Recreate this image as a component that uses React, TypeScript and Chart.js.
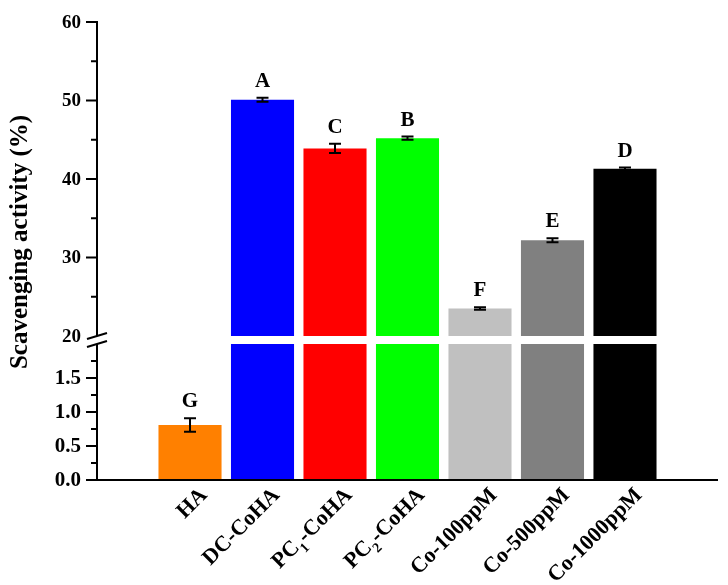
import { useEffect, useRef } from "react";
import { Chart, registerables } from "chart.js";

Chart.register(...registerables);

// ---------- data ----------
const categories = ["HA", "DC-CoHA", "PC_1-CoHA", "PC_2-CoHA", "Co-100ppM", "Co-500ppM", "Co-1000ppM"];
const values = [0.81, 50.1, 43.9, 45.2, 23.5, 32.2, 41.3];
const errors = [0.1, 0.25, 0.6, 0.2, 0.15, 0.25, 0.15];
const groupLetters = ["G", "A", "C", "B", "F", "E", "D"];
const barColors = ["#FF8000", "#0000FF", "#FF0000", "#00FF00", "#C0C0C0", "#808080", "#000000"];
const upperTicks = [20, 30, 40, 50, 60];
const upperMinorTicks = [25, 35, 45, 55];
const lowerTicks = [0, 0.5, 1.0, 1.5];
const lowerMinorTicks = [0.25, 0.75, 1.25, 1.75];
const lowerTickLabels = ["0.0", "0.5", "1.0", "1.5"];
const BREAK_LOW = 2;
const BREAK_HIGH = 20;
const yTitle = "Scavenging activity (%)";

const FONT = '"Liberation Serif", "Times New Roman", serif';

function drawLabel(ctx: CanvasRenderingContext2D, label: string, size: number) {
  const parts: { t: string; sub: boolean }[] = [];
  let buf = "";
  for (let i = 0; i < label.length; i++) {
    if (label[i] === "_" && i + 1 < label.length) {
      if (buf) parts.push({ t: buf, sub: false });
      buf = "";
      parts.push({ t: label[i + 1], sub: true });
      i++;
    } else buf += label[i];
  }
  if (buf) parts.push({ t: buf, sub: false });
  const subSize = Math.round(size * 0.65);
  let total = 0;
  const widths = parts.map((p) => {
    ctx.font = `bold ${p.sub ? subSize : size}px ${FONT}`;
    const w = ctx.measureText(p.t).width;
    total += w;
    return w;
  });
  let x = -total;
  parts.forEach((p, i) => {
    ctx.font = `bold ${p.sub ? subSize : size}px ${FONT}`;
    ctx.fillText(p.t, x, p.sub ? size * 0.3 : 0);
    x += widths[i];
  });
}

const brokenAxisPlugin = {
  id: "brokenAxis",
  afterDraw(chart: any) {
    const ctx: CanvasRenderingContext2D = chart.ctx;
    const { x, yHigh, yLow } = chart.scales;
    const area = chart.chartArea;
    const ax = area.left;
    ctx.save();
    ctx.strokeStyle = "#000";
    ctx.fillStyle = "#000";
    ctx.lineWidth = 2;
    ctx.lineCap = "butt";

    // x axis line
    ctx.beginPath();
    ctx.moveTo(ax - 1, area.bottom);
    ctx.lineTo(area.right, area.bottom);
    ctx.stroke();

    const yTop = yHigh.getPixelForValue(60);
    const yBH = yHigh.getPixelForValue(BREAK_HIGH);
    const yBL = yLow.getPixelForValue(BREAK_LOW);
    ctx.beginPath();
    ctx.moveTo(ax, yTop - 1);
    ctx.lineTo(ax, yBH);
    ctx.moveTo(ax, yBL);
    ctx.lineTo(ax, area.bottom);
    ctx.stroke();
    // break marks
    for (const yy of [yBH, yBL]) {
      ctx.beginPath();
      ctx.moveTo(ax - 10, yy + 3);
      ctx.lineTo(ax + 10, yy - 3);
      ctx.stroke();
    }

    // ticks
    const majorLen = 11;
    const minorLen = 6;
    ctx.beginPath();
    upperTicks.forEach((v) => {
      if (v === BREAK_HIGH) return;
      const p = yHigh.getPixelForValue(v);
      ctx.moveTo(ax - majorLen, p);
      ctx.lineTo(ax, p);
    });
    upperMinorTicks.forEach((v) => {
      const p = yHigh.getPixelForValue(v);
      ctx.moveTo(ax - minorLen, p);
      ctx.lineTo(ax, p);
    });
    lowerTicks.forEach((v) => {
      const p = yLow.getPixelForValue(v);
      ctx.moveTo(ax - majorLen, p);
      ctx.lineTo(ax, p);
    });
    lowerMinorTicks.forEach((v) => {
      const p = yLow.getPixelForValue(v);
      ctx.moveTo(ax - minorLen, p);
      ctx.lineTo(ax, p);
    });
    ctx.stroke();

    // tick labels
    ctx.textAlign = "right";
    ctx.textBaseline = "middle";
    ctx.font = `bold 19px ${FONT}`;
    upperTicks.forEach((v) => {
      ctx.fillText(String(v), ax - 16, yHigh.getPixelForValue(v) + 1);
    });
    ctx.font = `bold 21px ${FONT}`;
    lowerTicks.forEach((v, i) => {
      ctx.fillText(lowerTickLabels[i], ax - 16, yLow.getPixelForValue(v) + 1);
    });

    // y title
    ctx.save();
    ctx.translate(21, 242);
    ctx.rotate(-Math.PI / 2);
    ctx.textAlign = "center";
    ctx.textBaseline = "middle";
    ctx.font = `bold 25px ${FONT}`;
    ctx.fillText(yTitle, 0, 0);
    ctx.restore();

    // error bars + letters
    values.forEach((v, i) => {
      const sc = v > BREAK_HIGH ? yHigh : yLow;
      const cx = x.getPixelForValue(i);
      const pTop = sc.getPixelForValue(v + errors[i]);
      const pBot = sc.getPixelForValue(v - errors[i]);
      ctx.lineWidth = 2;
      ctx.beginPath();
      ctx.moveTo(cx, pTop);
      ctx.lineTo(cx, pBot);
      ctx.moveTo(cx - 6, pTop);
      ctx.lineTo(cx + 6, pTop);
      ctx.moveTo(cx - 6, pBot);
      ctx.lineTo(cx + 6, pBot);
      ctx.stroke();
      ctx.font = `bold 21px ${FONT}`;
      ctx.textAlign = "center";
      ctx.textBaseline = "alphabetic";
      ctx.fillText(groupLetters[i], cx, pTop - 11);
    });

    // x labels
    ctx.textAlign = "left";
    ctx.textBaseline = "alphabetic";
    categories.forEach((c, i) => {
      const cx = x.getPixelForValue(i);
      ctx.save();
      ctx.translate(cx + 18, 496);
      ctx.rotate(-Math.PI / 4);
      drawLabel(ctx, c, 22);
      ctx.restore();
    });
    ctx.restore();
  },
};

export default function App() {
  const ref = useRef<HTMLCanvasElement | null>(null);
  useEffect(() => {
    if (!ref.current) return;
    const highData = values
      .map((v, i) => ({ x: i, y: [BREAK_HIGH, v] }))
      .filter((d) => d.y[1] > BREAK_HIGH);
    const lowData = values.map((v, i) => ({ x: i, y: [0, Math.min(v, BREAK_LOW)] }));
    const highColors = barColors.filter((_, i) => values[i] > BREAK_HIGH);
    const chart = new Chart(ref.current, {
      type: "bar",
      data: {
        datasets: [
          {
            data: highData as any,
            yAxisID: "yHigh",
            backgroundColor: highColors,
            borderWidth: 0,
            grouped: false,
            categoryPercentage: 1,
            barPercentage: 0.87,
          },
          {
            data: lowData as any,
            yAxisID: "yLow",
            backgroundColor: barColors,
            borderWidth: 0,
            grouped: false,
            categoryPercentage: 1,
            barPercentage: 0.87,
          },
        ],
      },
      options: {
        responsive: false,
        animation: false,
        devicePixelRatio: 1,
        layout: { padding: { top: 22, right: 10, bottom: 105, left: 97 } },
        plugins: { legend: { display: false }, tooltip: { enabled: false } },
        scales: {
          x: { type: "linear", min: -1.283, max: 7.283, offset: false, display: false },
          yHigh: {
            type: "linear",
            position: "left",
            stack: "y",
            stackWeight: 318,
            weight: 2,
            min: 19.49,
            max: 60,
            display: false,
          },
          yLow: {
            type: "linear",
            position: "left",
            stack: "y",
            stackWeight: 140,
            weight: 1,
            min: 0,
            max: 2.059,
            display: false,
          },
        },
      },
      plugins: [brokenAxisPlugin],
    });
    return () => chart.destroy();
  }, []);
  return (
    <div style={{ position: "absolute", left: 0, top: 0, width: 728, height: 585, background: "#fff" }}>
      <canvas ref={ref} width={728} height={585} />
    </div>
  );
}
